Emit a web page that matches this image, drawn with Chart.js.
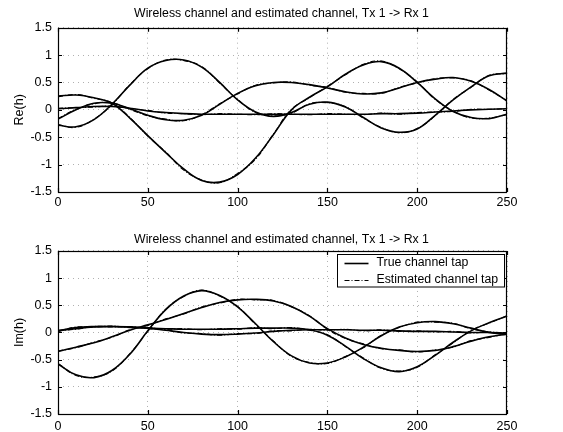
<!DOCTYPE html>
<html><head><meta charset="utf-8">
<script src="https://cdn.jsdelivr.net/npm/chart.js@4/dist/chart.umd.min.js"></script>
<style>
html,body{margin:0;padding:0;background:#fff;}
#wrap{position:relative;width:563px;height:432px;background:#fff;}
canvas{position:absolute;left:0;}
</style></head><body>
<div id="wrap">
<canvas id="c1" width="563" height="216" style="top:0;width:563px;height:216px"></canvas>
<canvas id="c2" width="563" height="216" style="top:216px;width:563px;height:216px"></canvas>
</div>
<script>
// ---- data ----
const samples = [0,10,20,30,40,50,60,70,80,90,100,110,120,130,140,150,160,170,180,190,200,210,220,230,240,250];
const xTicks = [0,50,100,150,200,250];
const yTicks = [-1.5,-1,-0.5,0,0.5,1,1.5];
const chartTitle = 'Wireless channel and estimated channel, Tx 1 -> Rx 1';
const topYLabel = 'Re(h)';
const bottomYLabel = 'Im(h)';
const legendLabels = ['True channel tap','Estimated channel tap'];

// Real part, true taps
const reTrue1 = [0.25,0.27,0.22,0.12,-0.15,-0.47,-0.78,-1.08,-1.29,-1.32,-1.18,-0.88,-0.45,0.0,0.23,0.42,0.65,0.82,0.88,0.76,0.5,0.2,-0.03,-0.14,-0.16,-0.08];
const reTrue2 = [0.02,0.04,0.06,0.06,0.03,-0.02,-0.05,-0.07,-0.08,-0.08,-0.08,-0.08,-0.08,-0.08,-0.08,-0.08,-0.08,-0.08,-0.07,-0.07,-0.06,-0.04,-0.02,0.0,0.01,0.02];
const reTrue3 = [-0.17,0.0,0.12,0.12,0.02,-0.1,-0.18,-0.19,-0.1,0.1,0.3,0.44,0.5,0.5,0.46,0.4,0.33,0.29,0.31,0.4,0.5,0.56,0.59,0.52,0.37,0.16];
const reTrue4 = [-0.28,-0.31,-0.18,0.1,0.45,0.76,0.9,0.91,0.78,0.5,0.18,-0.04,-0.12,-0.05,0.1,0.14,0.05,-0.14,-0.33,-0.41,-0.35,-0.1,0.18,0.42,0.62,0.67];
// Real part, estimated taps
const reEst1 = [0.24,0.28,0.21,0.13,-0.14,-0.48,-0.77,-1.1,-1.28,-1.33,-1.16,-0.9,-0.44,0.01,0.22,0.43,0.64,0.83,0.89,0.75,0.51,0.19,-0.02,-0.15,-0.15,-0.09];
const reEst2 = [0.03,0.04,0.05,0.07,0.02,-0.01,-0.06,-0.07,-0.09,-0.07,-0.08,-0.09,-0.07,-0.08,-0.09,-0.07,-0.08,-0.09,-0.06,-0.08,-0.05,-0.04,-0.03,0.01,0.01,0.02];
const reEst3 = [-0.16,0.01,0.11,0.13,0.01,-0.11,-0.17,-0.2,-0.09,0.11,0.29,0.45,0.49,0.51,0.45,0.41,0.32,0.3,0.3,0.41,0.49,0.57,0.58,0.53,0.36,0.17];
const reEst4 = [-0.27,-0.32,-0.17,0.09,0.46,0.75,0.91,0.9,0.79,0.49,0.19,-0.05,-0.11,-0.06,0.11,0.13,0.06,-0.15,-0.32,-0.42,-0.34,-0.11,0.19,0.41,0.63,0.66];

// Imaginary part, true taps
const imTrue1 = [-0.58,-0.78,-0.83,-0.7,-0.4,0.03,0.42,0.67,0.77,0.68,0.47,0.16,-0.17,-0.43,-0.56,-0.56,-0.45,-0.27,-0.06,0.1,0.18,0.2,0.16,0.08,0.0,-0.03];
const imTrue2 = [-0.35,-0.27,-0.19,-0.08,0.04,0.14,0.24,0.35,0.46,0.55,0.6,0.61,0.58,0.48,0.3,0.07,-0.1,-0.22,-0.29,-0.33,-0.35,-0.33,-0.26,-0.16,-0.08,-0.03];
const imTrue3 = [0.03,0.07,0.1,0.11,0.1,0.08,0.04,0.0,-0.03,-0.04,-0.03,-0.01,0.02,0.04,0.05,0.05,0.05,0.04,0.04,0.03,0.02,0.02,0.01,0.0,0.0,-0.01];
const imTrue4 = [0.03,0.09,0.11,0.11,0.1,0.08,0.07,0.06,0.06,0.06,0.07,0.08,0.08,0.08,0.05,-0.05,-0.25,-0.48,-0.65,-0.72,-0.63,-0.42,-0.18,0.03,0.18,0.3];
// Imaginary part, estimated taps
const imEst1 = [-0.57,-0.79,-0.82,-0.71,-0.39,0.02,0.43,0.66,0.78,0.67,0.48,0.15,-0.16,-0.44,-0.55,-0.57,-0.44,-0.28,-0.05,0.09,0.19,0.19,0.17,0.07,0.01,-0.03];
const imEst2 = [-0.34,-0.28,-0.18,-0.09,0.05,0.13,0.25,0.34,0.47,0.54,0.61,0.6,0.59,0.47,0.31,0.06,-0.11,-0.21,-0.3,-0.32,-0.36,-0.32,-0.27,-0.15,-0.09,-0.02];
const imEst3 = [0.04,0.06,0.11,0.1,0.11,0.07,0.05,-0.01,-0.02,-0.05,-0.02,-0.02,0.03,0.03,0.06,0.04,0.06,0.03,0.05,0.02,0.03,0.01,0.02,-0.01,0.01,-0.02];
const imEst4 = [0.02,0.1,0.1,0.12,0.09,0.09,0.06,0.07,0.05,0.07,0.06,0.09,0.07,0.09,0.04,-0.04,-0.26,-0.47,-0.66,-0.71,-0.64,-0.41,-0.19,0.04,0.17,0.31];

// ---- helpers ----
const FONT = "'Liberation Sans', Arial, Helvetica, sans-serif";
function pts(arr){ return samples.map((x,i)=>({x:x, y:arr[i]})); }
function trueSet(arr){ return {label:legendLabels[0], data:pts(arr), borderColor:'#000', borderWidth:1.6, pointRadius:0, tension:0.4, fill:false}; }
function estSet(arr){ return {label:legendLabels[1], data:pts(arr), borderColor:'#000', borderWidth:1.1, borderDash:[5,2,1,2], pointRadius:0, tension:0.4, fill:false}; }

const framePlugin = {
  id:'frame',
  afterDatasetsDraw(chart){
    const {ctx, chartArea:a, scales} = chart;
    ctx.save();
    ctx.strokeStyle = '#000'; ctx.lineWidth = 1.2; ctx.setLineDash([]);
    ctx.strokeRect(Math.round(a.left)+0.5, Math.round(a.top)+0.5, Math.round(a.right-a.left)-1, Math.round(a.bottom-a.top));
    const tl = 4;
    ctx.beginPath();
    xTicks.forEach(v=>{
      const px = Math.round(scales.x.getPixelForValue(v))+0.5;
      ctx.moveTo(px, a.bottom); ctx.lineTo(px, a.bottom-tl);
      ctx.moveTo(px, a.top); ctx.lineTo(px, a.top+tl);
    });
    yTicks.forEach(v=>{
      const py = Math.round(scales.y.getPixelForValue(v))+0.5;
      ctx.moveTo(a.left, py); ctx.lineTo(a.left+tl, py);
      ctx.moveTo(a.right, py); ctx.lineTo(a.right-tl, py);
    });
    ctx.stroke();
    ctx.restore();
  }
};

const legendBoxPlugin = {
  id:'legendBox',
  afterDraw(chart){
    if(!chart.options.plugins.legendBox || !chart.options.plugins.legendBox.show) return;
    const {ctx, chartArea:a} = chart;
    const w = 167, h = 32.5;
    const right = Math.round(a.right) - 2.5;
    const left = right - w;
    const top = Math.round(a.top) + 3.5;
    ctx.save();
    ctx.fillStyle = '#fff';
    ctx.fillRect(left, top, w, h);
    ctx.strokeStyle = '#000'; ctx.lineWidth = 1; ctx.setLineDash([]);
    ctx.strokeRect(left, top, w, h);
    const rows = [top + 8.5, top + 25];
    const dsIdx = [0, 4];
    ctx.font = '12.3px ' + FONT;
    ctx.textBaseline = 'middle';
    ctx.textAlign = 'left';
    rows.forEach((y, i)=>{
      const ds = chart.data.datasets[dsIdx[i]];
      ctx.beginPath();
      ctx.setLineDash(ds.borderDash || []);
      ctx.lineWidth = ds.borderWidth;
      ctx.strokeStyle = ds.borderColor;
      ctx.moveTo(left + 7, Math.round(y)+0.5);
      ctx.lineTo(left + 31, Math.round(y)+0.5);
      ctx.stroke();
      ctx.setLineDash([]);
      ctx.fillStyle = '#000';
      ctx.fillText(legendLabels[i], left + 39, y);
    });
    ctx.restore();
  }
};

function makeChart(id, datasets, yLabel, titlePad, xAxisH, xTickPad, showLegend){
  return new Chart(document.getElementById(id), {
    type:'line',
    data:{datasets:datasets},
    plugins:[framePlugin, legendBoxPlugin],
    options:{
      responsive:false, animation:false, devicePixelRatio:1,
      layout:{padding:{left:0, right:0, top:0, bottom:0}},
      plugins:{
        legend:{display:false},
        tooltip:{enabled:false},
        title:{display:true, text:chartTitle, color:'#000', font:{family:FONT, size:12.3, weight:'normal'}, padding:titlePad},
        legendBox:{show:showLegend}
      },
      scales:{
        x:{
          type:'linear', min:0, max:250,
          afterBuildTicks:(s)=>{ s.ticks = xTicks.map(v=>({value:v})); },
          afterFit:(s)=>{ s.height = xAxisH; },
          ticks:{color:'#000', font:{family:FONT, size:12.5}, padding:xTickPad, maxRotation:0, autoSkip:false, callback:(v)=>String(v)},
          grid:{color:'#b0b0b0', lineWidth:1, drawTicks:false},
          border:{display:false, dash:[1,4]}
        },
        y:{
          type:'linear', position:'left', min:-1.5, max:1.5,
          afterBuildTicks:(s)=>{ s.ticks = yTicks.map(v=>({value:v})); },
          afterFit:(s)=>{ s.width = 58; },
          ticks:{color:'#000', font:{family:FONT, size:12.5}, padding:6, autoSkip:false, callback:(v)=>String(v)},
          grid:{color:'#b0b0b0', lineWidth:1, drawTicks:false},
          border:{display:false, dash:[1,4]},
          title:{display:true, text:yLabel, color:'#000', font:{family:FONT, size:12.5}, padding:{top:12.5, bottom:0}}
        },
        yR:{
          type:'linear', position:'right', min:-1.5, max:1.5, display:true,
          afterFit:(s)=>{ s.width = 56; },
          ticks:{display:false},
          grid:{display:false, drawTicks:false},
          border:{display:false}
        }
      }
    }
  });
}

makeChart('c1', [trueSet(reTrue1),trueSet(reTrue2),trueSet(reTrue3),trueSet(reTrue4),estSet(reEst1),estSet(reEst2),estSet(reEst3),estSet(reEst4)], topYLabel, {top:5.9, bottom:7.0}, 24, 3.5, false);
makeChart('c2', [trueSet(imTrue1),trueSet(imTrue2),trueSet(imTrue3),trueSet(imTrue4),estSet(imEst1),estSet(imEst2),estSet(imEst3),estSet(imEst4)], bottomYLabel, {top:16.6, bottom:3.6}, 18, 5, true);
</script>
</body></html>
